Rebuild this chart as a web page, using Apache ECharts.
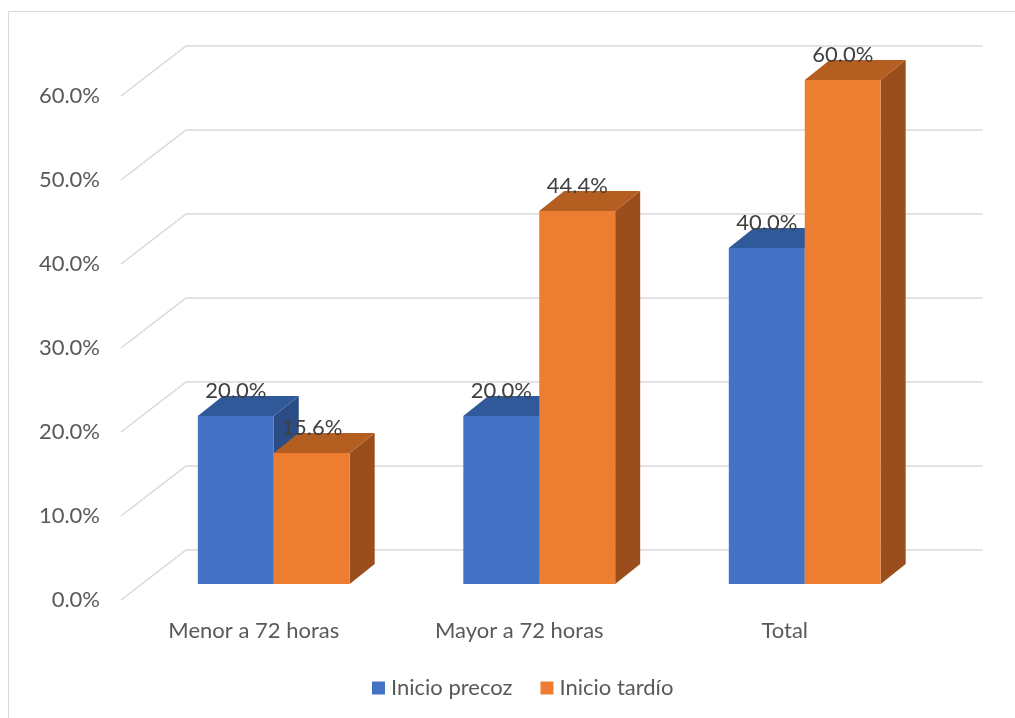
<!DOCTYPE html>
<html>
<head>
<meta charset="utf-8">
<script src="https://cdn.jsdelivr.net/npm/echarts@6/dist/echarts.min.js"></script>
<style>
  html, body { margin: 0; padding: 0; background: #ffffff; }
  #chart { width: 1015px; height: 718px; }
</style>
</head>
<body>
<div id="chart"></div>
<script>
// Percentages per onset group
const categories = ['Menor a 72 horas', 'Mayor a 72 horas', 'Total'];
const seriesNames = ['Inicio precoz', 'Inicio tardío'];
const precozValues = [20.0, 20.0, 40.0];
const tardioValues = [15.6, 44.4, 60.0];
const yTicks = [0, 10, 20, 30, 40, 50, 60];

const FONT = 'Lato, "Liberation Sans", sans-serif';
const FONT_SIZE = 22;

// Pseudo-3D geometry (pixels)
const FLOOR_DX = 65, FLOOR_DY = -50;     // wall depth
const BAR_FRONT_DX = 20, BAR_FRONT_DY = -16; // bar front face inset
const BAR_DX = 25, BAR_DY = -20;         // bar depth
const BAR_RATIO = 0.286;                 // bar width / category band

const palettes = [
  { front: '#4472C4', top: '#30599A', side: '#2B4C85' },
  { front: '#ED7D31', top: '#B45E22', side: '#9A4D1D' }
];

const chart = echarts.init(document.getElementById('chart'), null, { renderer: 'canvas' });

// Back wall + side wall gridlines
function renderWall(params, api) {
  const cs = params.coordSys;
  const v = api.value(1);
  const y = api.coord([0, v])[1];
  const xl = cs.x, xr = cs.x + cs.width;
  return {
    type: 'polyline',
    silent: true,
    shape: { points: [[xl, y], [xl + FLOOR_DX, y + FLOOR_DY], [xr + FLOOR_DX, y + FLOOR_DY]] },
    style: { stroke: '#d9d9d9', lineWidth: 1.5, fill: null }
  };
}

function makeBarRenderer(s) {
  return function (params, api) {
    const i = api.value(0);
    const v = api.value(1);
    const base = api.coord([i, 0]);
    const top = api.coord([i, v]);
    const band = api.size([1, 0])[0];
    const w = band * BAR_RATIO;
    const x0 = base[0] + (s === 0 ? -w : 0) + BAR_FRONT_DX;
    const x1 = x0 + w;
    const yb = base[1] + BAR_FRONT_DY;
    const yt = top[1] + BAR_FRONT_DY;
    const c = palettes[s];
    return {
      type: 'group',
      children: [
        { type: 'polygon', shape: { points: [[x1, yt], [x1 + BAR_DX, yt + BAR_DY], [x1 + BAR_DX, yb + BAR_DY], [x1, yb]] },
          style: { fill: c.side } },
        { type: 'polygon', shape: { points: [[x0, yt], [x0 + BAR_DX, yt + BAR_DY], [x1 + BAR_DX, yt + BAR_DY], [x1, yt]] },
          style: { fill: c.top } },
        { type: 'rect', shape: { x: x0, y: yt, width: w, height: yb - yt },
          style: { fill: c.front } },
        { type: 'text', z2: 10,
          style: { text: v.toFixed(1) + '%', x: (x0 + x1) / 2, y: yt - 25, align: 'center', verticalAlign: 'middle',
                   fill: '#404040', fontSize: FONT_SIZE, fontFamily: FONT } }
      ]
    };
  };
}

const option = {
  backgroundColor: '#ffffff',
  animation: false,
  graphic: [{
    type: 'rect', silent: true, z: -10,
    shape: { x: 8.5, y: 11.5, width: 1200, height: 900 },
    style: { fill: null, stroke: '#d9d9d9', lineWidth: 1 }
  }],
  grid: { left: 121, right: 97.5, top: 96, bottom: 118, containLabel: false },
  legend: {
    data: seriesNames,
    left: 367, top: 672,
    itemWidth: 13, itemHeight: 13, itemGap: 28,
    icon: 'rect',
    textStyle: { color: '#595959', fontSize: FONT_SIZE, fontFamily: FONT, padding: [0, 0, 0, 1] }
  },
  xAxis: {
    type: 'category',
    data: categories,
    axisLine: { show: false },
    axisTick: { show: false },
    splitLine: { show: false },
    axisLabel: { color: '#595959', fontSize: FONT_SIZE, fontFamily: FONT, margin: 20 }
  },
  yAxis: {
    type: 'value',
    min: 0, max: 60, interval: 10,
    axisLine: { show: false },
    axisTick: { show: false },
    splitLine: { show: false },
    axisLabel: { color: '#595959', fontSize: FONT_SIZE, fontFamily: FONT, margin: 21,
                 formatter: v => v.toFixed(1) + '%' }
  },
  series: [
    {
      type: 'custom', name: '_wall', silent: true, z: 1,
      renderItem: renderWall,
      encode: { x: 0, y: 1 },
      data: yTicks.map(t => [0, t]),
      clip: false
    },
    {
      type: 'custom', name: seriesNames[0], z: 2,
      itemStyle: { color: palettes[0].front },
      renderItem: makeBarRenderer(0),
      encode: { x: 0, y: 1 },
      data: precozValues.map((v, i) => [i, v]),
      clip: false
    },
    {
      type: 'custom', name: seriesNames[1], z: 3,
      itemStyle: { color: palettes[1].front },
      renderItem: makeBarRenderer(1),
      encode: { x: 0, y: 1 },
      data: tardioValues.map((v, i) => [i, v]),
      clip: false
    }
  ]
};

chart.setOption(option);
</script>
</body>
</html>
